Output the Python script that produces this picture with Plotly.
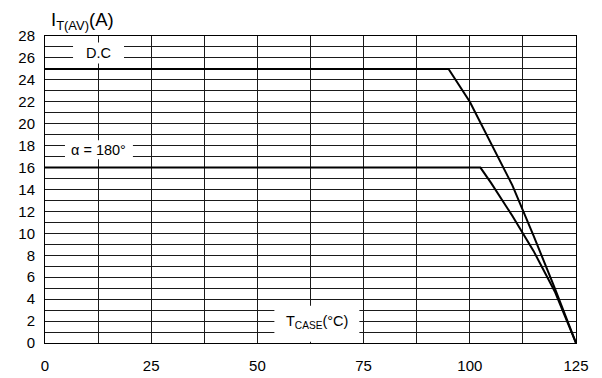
import plotly.graph_objects as go

# Data
t_dc = [0, 95, 100, 105, 110, 115, 120, 125]
i_dc = [25, 25, 22, 18.2, 14.4, 9.8, 5.0, 0]
t_180 = [0, 102.5, 105, 110, 115, 120, 125]
i_180 = [16, 16, 14.6, 11.6, 8.4, 4.7, 0]

x_ticks = [0, 25, 50, 75, 100, 125]
y_ticks = list(range(0, 29, 2))

FONT = "Liberation Sans, Arial, sans-serif"
GRID = "#1a1a1a"

fig = go.Figure()
fig.add_trace(go.Scatter(x=t_dc, y=i_dc, mode="lines",
                         line=dict(color="black", width=2), showlegend=False))
fig.add_trace(go.Scatter(x=t_180, y=i_180, mode="lines",
                         line=dict(color="black", width=2), showlegend=False))

# white label boxes covering gridlines
boxes = [
    dict(x0=6.6, x1=18.6, y0=25.5, y1=27.4, text="D.C", tx=12.5, ty=26.45),
    dict(x0=4.7, x1=20.7, y0=16.75, y1=18.5, text="α = 180°", tx=12.7, ty=17.6),
    dict(x0=54, x1=74, y0=0.12, y1=3.4, text="T<sub>CASE</sub>(°C)", tx=64, ty=1.9),
]
for b in boxes:
    fig.add_shape(type="rect", xref="x", yref="y", x0=b["x0"], x1=b["x1"],
                  y0=b["y0"], y1=b["y1"], fillcolor="white",
                  line=dict(width=0), layer="above")
    fig.add_annotation(x=b["tx"], y=b["ty"], xref="x", yref="y", text=b["text"],
                       showarrow=False, font=dict(family=FONT, size=14.5, color="black"),
                       xanchor="center", yanchor="middle")

fig.add_annotation(xref="paper", yref="paper", x=0.0, y=1.0, xshift=4, yshift=1,
                   xanchor="left", yanchor="bottom",
                   text="I<sub>T(AV)</sub>(A)", showarrow=False,
                   font=dict(family=FONT, size=18.5, color="black"))

fig.update_layout(
    width=602, height=378,
    margin=dict(l=45, r=26, t=36, b=35, autoexpand=False),
    paper_bgcolor="white", plot_bgcolor="white",
    font=dict(family=FONT, color="black"),
    xaxis=dict(range=[0, 125], tickvals=x_ticks, ticktext=[str(v) for v in x_ticks],
               showgrid=True, gridcolor=GRID, gridwidth=1, automargin=False,
               minor=dict(dtick=12.5, tick0=0, showgrid=True, gridcolor=GRID, gridwidth=1),
               showline=True, linecolor="black", linewidth=1, mirror=True,
               zeroline=False, ticks="", ticklabelstandoff=9,
               tickfont=dict(family=FONT, size=15, color="black")),
    yaxis=dict(range=[0, 28], tickvals=y_ticks, ticktext=[str(v) for v in y_ticks],
               showgrid=True, gridcolor=GRID, gridwidth=1, automargin=False,
               minor=dict(dtick=1, tick0=0, showgrid=True, gridcolor=GRID, gridwidth=1),
               showline=True, linecolor="black", linewidth=1, mirror=True,
               zeroline=False, ticks="", ticklabelstandoff=6,
               tickfont=dict(family=FONT, size=15, color="black")),
)

fig.write_html("out.html")
